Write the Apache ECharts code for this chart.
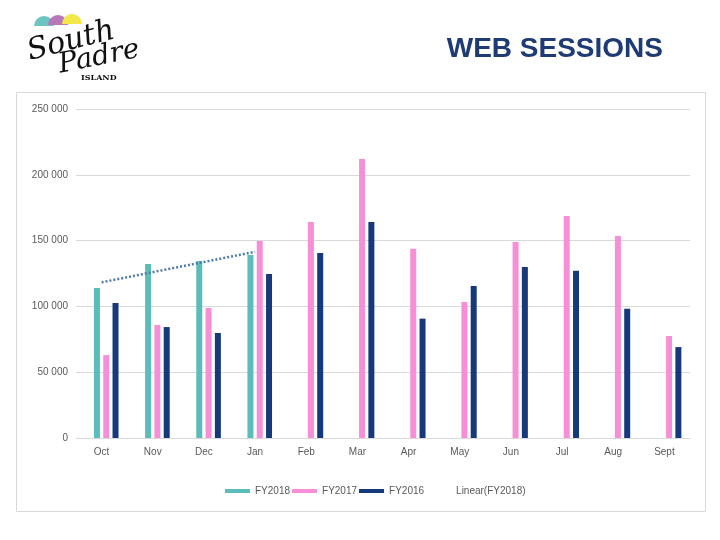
<!DOCTYPE html>
<html>
<head>
<meta charset="utf-8">
<script src="https://cdn.jsdelivr.net/npm/echarts@6/dist/echarts.min.js"></script>
<style>html,body{margin:0;padding:0;background:#fff}#c{width:720px;height:540px}</style>
</head>
<body>
<div id="c"></div>
<script>
const categories = ['Oct','Nov','Dec','Jan','Feb','Mar','Apr','May','Jun','Jul','Aug','Sept'];
const fy2018 = [114000, 132200, 134500, 139000, null, null, null, null, null, null, null, null];
const fy2017 = [63000, 85900, 98800, 149700, 164100, 212000, 143800, 103300, 148900, 168700, 153500, 77500];
const fy2016 = [102600, 84300, 79800, 124600, 140600, 164100, 90700, 115500, 129900, 127100, 98300, 69100];
const trendFY2018 = [118300, null, null, 141500, null, null, null, null, null, null, null, null];
const yTicks = [0, 50000, 100000, 150000, 200000, 250000];

const chart = echarts.init(document.getElementById('c'));
const fmt = v => String(v).replace(/\B(?=(\d{3})+(?!\d))/g, ' ');
const txt = '#595959';
chart.setOption({
  animation: false,
  backgroundColor: '#fff',
  title: {
    text: 'WEB SESSIONS', right: 52, top: 30,
    textStyle: { fontFamily: 'Liberation Sans, Arial', fontWeight: 'bold', fontSize: 28, color: '#1F3B73' }
  },
  graphic: [
    { type: 'rect', shape: { x: 16.5, y: 92.5, width: 689, height: 419 }, style: { fill: 'none', stroke: '#d9d9d9', lineWidth: 1 } },
    { type: 'sector', shape: { cx: 44, cy: 26, r: 10, startAngle: Math.PI, endAngle: 2 * Math.PI }, style: { fill: '#6CC5C1' } },
    { type: 'sector', shape: { cx: 58, cy: 25, r: 10, startAngle: Math.PI, endAngle: 2 * Math.PI }, style: { fill: '#B878B8' } },
    { type: 'sector', shape: { cx: 72, cy: 24, r: 10, startAngle: Math.PI, endAngle: 2 * Math.PI }, style: { fill: '#F2E84A' } },
    { type: 'text', x: 24, y: 38, rotation: 0.25, style: { text: 'South', font: 'italic 30px "DejaVu Serif"', fill: '#111' } },
    { type: 'text', x: 56, y: 52, rotation: 0.2, style: { text: 'Padre', font: 'italic 28px "DejaVu Serif"', fill: '#111' } },
    { type: 'text', x: 81, y: 74, style: { text: 'ISLAND', font: 'bold 8px "DejaVu Serif"', fill: '#111' } }
  ],
  legend: {
    left: 220, top: 481, itemWidth: 25, itemHeight: 4, itemGap: 2,
    textStyle: { color: txt, fontSize: 10, fontFamily: 'Liberation Sans, Arial' },
    data: [
      { name: 'FY2018', icon: 'rect' },
      { name: 'FY2017', icon: 'rect' },
      { name: 'FY2016', icon: 'rect' },
      { name: 'Linear(FY2018)', icon: 'rect', itemStyle: { opacity: 0 } }
    ]
  },
  grid: { left: 76, right: 30, top: 109, bottom: 102, containLabel: false },
  xAxis: {
    type: 'category', data: categories,
    axisLine: { lineStyle: { color: '#d9d9d9' } },
    axisTick: { show: false },
    axisLabel: { color: txt, fontSize: 10, margin: 9, fontFamily: 'Liberation Sans, Arial' }
  },
  yAxis: {
    type: 'value', min: yTicks[0], max: yTicks[yTicks.length - 1], interval: 50000,
    axisLine: { show: false }, axisTick: { show: false },
    splitLine: { lineStyle: { color: '#d9d9d9' } },
    axisLabel: { color: txt, fontSize: 10, margin: 8, formatter: fmt, fontFamily: 'Liberation Sans, Arial' }
  },
  series: [
    { name: 'spacer', type: 'bar', data: [], barWidth: 6, barGap: '55%', silent: true, itemStyle: { color: 'transparent' } },
    { name: 'FY2018', type: 'bar', data: fy2018, barWidth: 6, barGap: '55%', itemStyle: { color: '#5BBDB9' } },
    { name: 'FY2017', type: 'bar', data: fy2017, barWidth: 6, barGap: '55%', itemStyle: { color: '#F78FD8' } },
    { name: 'FY2016', type: 'bar', data: fy2016, barWidth: 6, barGap: '55%', itemStyle: { color: '#15397A' } },
    { name: 'Linear(FY2018)', type: 'line', data: trendFY2018, connectNulls: true, showSymbol: false, symbol: 'none',
      lineStyle: { color: '#4F7BAA', width: 2.5, type: [2, 2] }, itemStyle: { color: '#4F7BAA' } }
  ]
});
</script>
</body>
</html>
